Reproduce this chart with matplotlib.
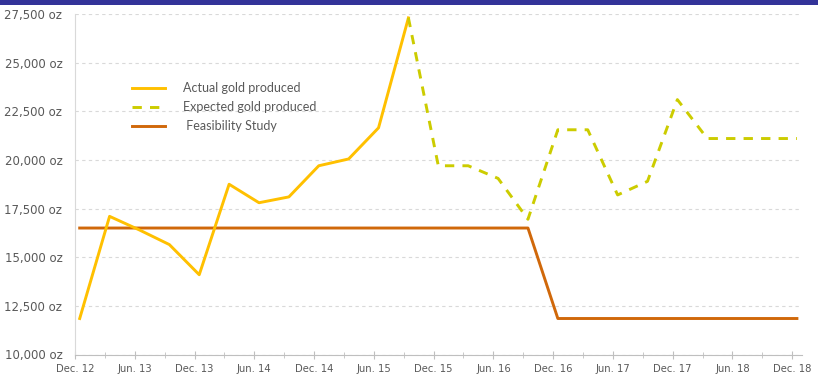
import matplotlib
matplotlib.use("Agg")
import matplotlib.pyplot as plt
import matplotlib.transforms as mtransforms
from matplotlib.patches import Rectangle
from matplotlib.ticker import FuncFormatter

# quarterly periods Dec. 12 .. Dec. 18
quarters = ["Dec. 12", "Mar. 13", "Jun. 13", "Sep. 13", "Dec. 13", "Mar. 14", "Jun. 14",
            "Sep. 14", "Dec. 14", "Mar. 15", "Jun. 15", "Sep. 15", "Dec. 15", "Mar. 16",
            "Jun. 16", "Sep. 16", "Dec. 16", "Mar. 17", "Jun. 17", "Sep. 17", "Dec. 17",
            "Mar. 18", "Jun. 18", "Sep. 18", "Dec. 18"]

# Dec. 12 .. Sep. 15
actual = [11850, 17100, 16400, 15650, 14100, 18750, 17800, 18100, 19700, 20050, 21650, 27300]
# Sep. 15 .. Dec. 18
expected = [27300, 19700, 19700, 19050, 16950, 21550, 21550, 18200, 18900, 23100,
            21100, 21100, 21100, 21100]
# Dec. 12 .. Dec. 18
feasibility = [16500] * 16 + [11850] * 9

x = list(range(len(quarters)))
x_actual = x[:len(actual)]
x_expected = x[len(actual) - 1:]

fig = plt.figure(figsize=(8.18, 3.76), dpi=100)
ax = fig.add_axes([75 / 818, 21.5 / 376, 727 / 818, 340.5 / 376])
plt.rcParams["font.family"] = ["Lato", "DejaVu Sans"]

ax.plot(x_actual, actual, color="#FFC000", lw=2.1, label="Actual gold produced", zorder=3)
ax.plot(x_expected, expected, color="#CCCC00", lw=2.1, dashes=(3.2, 2.8),
        label="Expected gold produced", zorder=3)
ax.plot(x, feasibility, color="#D0680A", lw=2.1, label=" Feasibility Study", zorder=2)

ax.set_ylim(10000, 27500)
ax.set_yticks(range(10000, 27501, 2500))
ax.yaxis.set_major_formatter(FuncFormatter(lambda v, p: f"{int(v):,} oz"))
ax.grid(axis="y", color="#d9d9d9", lw=0.8, dashes=(3, 3))
ax.set_axisbelow(True)

off = 0.157
ax.set_xlim(-off, 24.17)
ax.set_xticks([i - off for i in x[::2]], quarters[::2])
ax.set_xticks([i - off for i in x[1::2]], minor=True)
shift = mtransforms.ScaledTranslation(4.7 / 100, 0, fig.dpi_scale_trans)
for lbl in ax.get_xticklabels():
    lbl.set_transform(lbl.get_transform() + shift)

for s in ["top", "right"]:
    ax.spines[s].set_visible(False)
ax.spines["left"].set_color("#d9d9d9")
ax.spines["bottom"].set_color("#bfbfbf")
ax.tick_params(axis="y", length=0, pad=9, labelsize=8.5, labelcolor="#595959")
ax.tick_params(axis="x", which="major", direction="inout", length=6, color="#bfbfbf",
               labelsize=7.2, labelcolor="#595959", pad=4)
ax.tick_params(axis="x", which="minor", direction="inout", length=4, color="#bfbfbf")

leg = ax.legend(loc="upper left", bbox_to_anchor=(132 / 818, 1 - 82 / 376),
                bbox_transform=fig.transFigure, frameon=False, fontsize=9,
                handlelength=2.6, handletextpad=1.5, labelspacing=0.58, borderpad=0,
                borderaxespad=0)
for t in leg.get_texts():
    t.set_color("#595959")

fig.add_artist(Rectangle((0, 1 - 5 / 376), 1, 5 / 376, transform=fig.transFigure,
                         color="#333399", lw=0))

fig.savefig("out.png", dpi=100)
